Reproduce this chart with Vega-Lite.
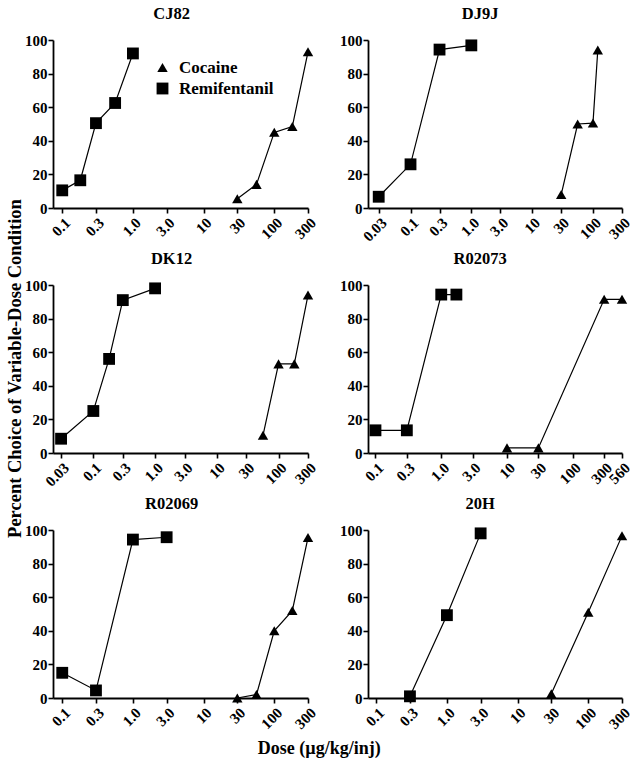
{
  "$schema": "https://vega.github.io/schema/vega-lite/v6.json",
  "background": "white",
  "padding": 5,
  "datasets": {
    "d": [
      {"subject": "CJ82", "drug": "Remifentanil", "dose": 0.1, "pct": 10.5},
      {"subject": "CJ82", "drug": "Remifentanil", "dose": 0.18, "pct": 16.5},
      {"subject": "CJ82", "drug": "Remifentanil", "dose": 0.3, "pct": 50.5},
      {"subject": "CJ82", "drug": "Remifentanil", "dose": 0.56, "pct": 62.5},
      {"subject": "CJ82", "drug": "Remifentanil", "dose": 1.0, "pct": 92},
      {"subject": "CJ82", "drug": "Cocaine", "dose": 30, "pct": 5.5},
      {"subject": "CJ82", "drug": "Cocaine", "dose": 56, "pct": 14},
      {"subject": "CJ82", "drug": "Cocaine", "dose": 100, "pct": 45},
      {"subject": "CJ82", "drug": "Cocaine", "dose": 180, "pct": 48.5},
      {"subject": "CJ82", "drug": "Cocaine", "dose": 300, "pct": 93},
      {"subject": "DJ9J", "drug": "Remifentanil", "dose": 0.03, "pct": 6.7},
      {"subject": "DJ9J", "drug": "Remifentanil", "dose": 0.1, "pct": 26},
      {"subject": "DJ9J", "drug": "Remifentanil", "dose": 0.3, "pct": 94.3},
      {"subject": "DJ9J", "drug": "Remifentanil", "dose": 1.0, "pct": 96.8},
      {"subject": "DJ9J", "drug": "Cocaine", "dose": 30, "pct": 8},
      {"subject": "DJ9J", "drug": "Cocaine", "dose": 56, "pct": 50},
      {"subject": "DJ9J", "drug": "Cocaine", "dose": 100, "pct": 50.5},
      {"subject": "DJ9J", "drug": "Cocaine", "dose": 120, "pct": 94},
      {"subject": "DK12", "drug": "Remifentanil", "dose": 0.03, "pct": 8.5},
      {"subject": "DK12", "drug": "Remifentanil", "dose": 0.1, "pct": 25},
      {"subject": "DK12", "drug": "Remifentanil", "dose": 0.18, "pct": 56},
      {"subject": "DK12", "drug": "Remifentanil", "dose": 0.3, "pct": 91},
      {"subject": "DK12", "drug": "Remifentanil", "dose": 1.0, "pct": 98},
      {"subject": "DK12", "drug": "Cocaine", "dose": 56, "pct": 10.5},
      {"subject": "DK12", "drug": "Cocaine", "dose": 100, "pct": 53},
      {"subject": "DK12", "drug": "Cocaine", "dose": 180, "pct": 53},
      {"subject": "DK12", "drug": "Cocaine", "dose": 300, "pct": 94},
      {"subject": "R02073", "drug": "Remifentanil", "dose": 0.1, "pct": 13.5},
      {"subject": "R02073", "drug": "Remifentanil", "dose": 0.3, "pct": 13.5},
      {"subject": "R02073", "drug": "Remifentanil", "dose": 1.0, "pct": 94.3},
      {"subject": "R02073", "drug": "Remifentanil", "dose": 1.7, "pct": 94.3},
      {"subject": "R02073", "drug": "Cocaine", "dose": 10, "pct": 3},
      {"subject": "R02073", "drug": "Cocaine", "dose": 30, "pct": 3},
      {"subject": "R02073", "drug": "Cocaine", "dose": 300, "pct": 91.5},
      {"subject": "R02073", "drug": "Cocaine", "dose": 560, "pct": 91.5},
      {"subject": "R02069", "drug": "Remifentanil", "dose": 0.1, "pct": 15},
      {"subject": "R02069", "drug": "Remifentanil", "dose": 0.3, "pct": 4.5},
      {"subject": "R02069", "drug": "Remifentanil", "dose": 1.0, "pct": 94.3},
      {"subject": "R02069", "drug": "Remifentanil", "dose": 3.0, "pct": 95.7},
      {"subject": "R02069", "drug": "Cocaine", "dose": 30, "pct": 0},
      {"subject": "R02069", "drug": "Cocaine", "dose": 56, "pct": 2},
      {"subject": "R02069", "drug": "Cocaine", "dose": 100, "pct": 40},
      {"subject": "R02069", "drug": "Cocaine", "dose": 180, "pct": 52},
      {"subject": "R02069", "drug": "Cocaine", "dose": 300, "pct": 95.5},
      {"subject": "20H", "drug": "Remifentanil", "dose": 0.3, "pct": 1},
      {"subject": "20H", "drug": "Remifentanil", "dose": 1.0, "pct": 49.3},
      {"subject": "20H", "drug": "Remifentanil", "dose": 3.0, "pct": 98},
      {"subject": "20H", "drug": "Cocaine", "dose": 30, "pct": 2.5},
      {"subject": "20H", "drug": "Cocaine", "dose": 100, "pct": 51},
      {"subject": "20H", "drug": "Cocaine", "dose": 300, "pct": 96.5}
    ]
  },
  "title": {"text": "Dose (µg/kg/inj)", "orient": "bottom", "anchor": "middle", "frame": "bounds", "font": "Liberation Serif", "fontSize": 18, "fontWeight": "bold", "color": "black", "offset": 8},
  "config": {
    "view": {"stroke": null},
    "font": "Liberation Serif",
    "axis": {"domainColor": "black", "domainWidth": 1.8, "tickColor": "black", "tickWidth": 1.6, "tickSize": 5, "labelFont": "Liberation Serif", "labelFontWeight": "bold", "labelFontSize": 15, "labelColor": "black", "grid": false, "labelPadding": 1, "labelOverlap": false, "titleFont": "Liberation Serif"},
    "axisX": {"labelAngle": -45, "labelPadding": 2},
    "title": {"font": "Liberation Serif", "fontSize": 16.5, "fontWeight": "bold", "color": "black", "anchor": "middle", "frame": "bounds", "offset": 11},
    "legend": {"labelFont": "Liberation Serif", "labelFontWeight": "bold", "labelFontSize": 17, "labelColor": "black", "symbolSize": 140, "symbolFillColor": "black", "symbolStrokeColor": "black", "symbolStrokeWidth": 1.5, "rowPadding": 3, "labelOffset": 8}
  },
  "resolve": {"scale": {"shape": "independent"}, "legend": {"shape": "independent"}},
  "vconcat": [
    {
      "title": {"text": "Percent Choice of Variable-Dose Condition", "orient": "left", "anchor": "middle", "frame": "bounds", "fontSize": 18.5, "offset": 0},
      "spacing": 5,
      "resolve": {"scale": {"shape": "independent"}, "legend": {"shape": "independent"}},
      "vconcat": [
        {
          "spacing": 20,
          "resolve": {"scale": {"shape": "independent"}, "legend": {"shape": "independent"}},
          "hconcat": [
            {
              "width": 255, "height": 168,
              "title": "CJ82",
              "data": {"name": "d"},
              "transform": [{"filter": "datum.subject == 'CJ82'"}],
              "encoding": {
                "x": {"field": "dose", "type": "quantitative", "scale": {"type": "log", "domain": [0.074, 300], "nice": false}, "axis": {"title": null, "values": [0.1, 0.3, 1, 3, 10, 30, 100, 300], "labelExpr": "datum.value == 1 ? '1.0' : datum.value == 3 ? '3.0' : toString(datum.value)"}},
                "y": {"field": "pct", "type": "quantitative", "scale": {"domain": [0, 100], "nice": false}, "axis": {"title": null, "values": [0, 20, 40, 60, 80, 100]}}
              },
              "layer": [
                {"mark": {"type": "line", "color": "black", "strokeWidth": 1.2}, "encoding": {"detail": {"field": "drug", "type": "nominal"}}},
                {"mark": {"type": "point", "filled": true, "opacity": 1, "color": "black", "strokeWidth": 0, "size": 140},
                 "encoding": {
                   "shape": {"field": "drug", "type": "nominal", "scale": {"domain": ["Cocaine", "Remifentanil"], "range": ["M0,-0.78L0.88,0.75L-0.88,0.75Z", "square"]},
                     "legend": {"title": null, "orient": "none", "legendX": 101, "legendY": 19,
                       "encode": {"symbols": {"update": {"shape": {"signal": "datum.value == 'Cocaine' ? 'M-1.35,0.25H1.35M0,-0.78L0.88,0.75L-0.88,0.75Z' : 'M-1.35,0H1.35M-0.95,-0.95H0.95V0.95H-0.95Z'"}}}}}}
                 }}
              ]
            },
            {
              "width": 254, "height": 168,
              "title": {"text": "DJ9J", "dx": -6},
              "data": {"name": "d"},
              "transform": [{"filter": "datum.subject == 'DJ9J'"}],
              "encoding": {
                "x": {"field": "dose", "type": "quantitative", "scale": {"type": "log", "domain": [0.02, 300], "nice": false}, "axis": {"title": null, "values": [0.03, 0.1, 0.3, 1, 3, 10, 30, 100, 300], "labelExpr": "datum.value == 1 ? '1.0' : datum.value == 3 ? '3.0' : toString(datum.value)"}},
                "y": {"field": "pct", "type": "quantitative", "scale": {"domain": [0, 100], "nice": false}, "axis": {"title": null, "values": [0, 20, 40, 60, 80, 100]}}
              },
              "layer": [
                {"mark": {"type": "line", "color": "black", "strokeWidth": 1.2}, "encoding": {"detail": {"field": "drug", "type": "nominal"}}},
                {"mark": {"type": "point", "filled": true, "opacity": 1, "color": "black", "strokeWidth": 0, "size": 140},
                 "encoding": {"shape": {"field": "drug", "type": "nominal", "scale": {"domain": ["Cocaine", "Remifentanil"], "range": ["M0,-0.78L0.88,0.75L-0.88,0.75Z", "square"]}, "legend": null}}}
              ]
            }
          ]
        },
        {
          "spacing": 20,
          "resolve": {"scale": {"shape": "independent"}, "legend": {"shape": "independent"}},
          "hconcat": [
            {
              "width": 255, "height": 168,
              "title": "DK12",
              "data": {"name": "d"},
              "transform": [{"filter": "datum.subject == 'DK12'"}],
              "encoding": {
                "x": {"field": "dose", "type": "quantitative", "scale": {"type": "log", "domain": [0.0222, 300], "nice": false}, "axis": {"title": null, "values": [0.03, 0.1, 0.3, 1, 3, 10, 30, 100, 300], "labelExpr": "datum.value == 1 ? '1.0' : datum.value == 3 ? '3.0' : toString(datum.value)"}},
                "y": {"field": "pct", "type": "quantitative", "scale": {"domain": [0, 100], "nice": false}, "axis": {"title": null, "values": [0, 20, 40, 60, 80, 100]}}
              },
              "layer": [
                {"mark": {"type": "line", "color": "black", "strokeWidth": 1.2}, "encoding": {"detail": {"field": "drug", "type": "nominal"}}},
                {"mark": {"type": "point", "filled": true, "opacity": 1, "color": "black", "strokeWidth": 0, "size": 140},
                 "encoding": {"shape": {"field": "drug", "type": "nominal", "scale": {"domain": ["Cocaine", "Remifentanil"], "range": ["M0,-0.78L0.88,0.75L-0.88,0.75Z", "square"]}, "legend": null}}}
              ]
            },
            {
              "width": 254, "height": 168,
              "title": {"text": "R02073", "dx": -6},
              "data": {"name": "d"},
              "transform": [{"filter": "datum.subject == 'R02073'"}],
              "encoding": {
                "x": {"field": "dose", "type": "quantitative", "scale": {"type": "log", "domain": [0.077, 560], "nice": false}, "axis": {"title": null, "values": [0.1, 0.3, 1, 3, 10, 30, 100, 300, 560], "labelExpr": "datum.value == 1 ? '1.0' : datum.value == 3 ? '3.0' : toString(datum.value)"}},
                "y": {"field": "pct", "type": "quantitative", "scale": {"domain": [0, 100], "nice": false}, "axis": {"title": null, "values": [0, 20, 40, 60, 80, 100]}}
              },
              "layer": [
                {"mark": {"type": "line", "color": "black", "strokeWidth": 1.2}, "encoding": {"detail": {"field": "drug", "type": "nominal"}}},
                {"mark": {"type": "point", "filled": true, "opacity": 1, "color": "black", "strokeWidth": 0, "size": 140},
                 "encoding": {"shape": {"field": "drug", "type": "nominal", "scale": {"domain": ["Cocaine", "Remifentanil"], "range": ["M0,-0.78L0.88,0.75L-0.88,0.75Z", "square"]}, "legend": null}}}
              ]
            }
          ]
        },
        {
          "spacing": 20,
          "resolve": {"scale": {"shape": "independent"}, "legend": {"shape": "independent"}},
          "hconcat": [
            {
              "width": 255, "height": 168,
              "title": "R02069",
              "data": {"name": "d"},
              "transform": [{"filter": "datum.subject == 'R02069'"}],
              "encoding": {
                "x": {"field": "dose", "type": "quantitative", "scale": {"type": "log", "domain": [0.074, 300], "nice": false}, "axis": {"title": null, "values": [0.1, 0.3, 1, 3, 10, 30, 100, 300], "labelExpr": "datum.value == 1 ? '1.0' : datum.value == 3 ? '3.0' : toString(datum.value)"}},
                "y": {"field": "pct", "type": "quantitative", "scale": {"domain": [0, 100], "nice": false}, "axis": {"title": null, "values": [0, 20, 40, 60, 80, 100]}}
              },
              "layer": [
                {"mark": {"type": "line", "color": "black", "strokeWidth": 1.2}, "encoding": {"detail": {"field": "drug", "type": "nominal"}}},
                {"mark": {"type": "point", "filled": true, "opacity": 1, "color": "black", "strokeWidth": 0, "size": 140},
                 "encoding": {"shape": {"field": "drug", "type": "nominal", "scale": {"domain": ["Cocaine", "Remifentanil"], "range": ["M0,-0.78L0.88,0.75L-0.88,0.75Z", "square"]}, "legend": null}}}
              ]
            },
            {
              "width": 254, "height": 168,
              "title": {"text": "20H", "dx": -6},
              "data": {"name": "d"},
              "transform": [{"filter": "datum.subject == '20H'"}],
              "encoding": {
                "x": {"field": "dose", "type": "quantitative", "scale": {"type": "log", "domain": [0.0765, 300], "nice": false}, "axis": {"title": null, "values": [0.1, 0.3, 1, 3, 10, 30, 100, 300], "labelExpr": "datum.value == 1 ? '1.0' : datum.value == 3 ? '3.0' : toString(datum.value)"}},
                "y": {"field": "pct", "type": "quantitative", "scale": {"domain": [0, 100], "nice": false}, "axis": {"title": null, "values": [0, 20, 40, 60, 80, 100]}}
              },
              "layer": [
                {"mark": {"type": "line", "color": "black", "strokeWidth": 1.2}, "encoding": {"detail": {"field": "drug", "type": "nominal"}}},
                {"mark": {"type": "point", "filled": true, "opacity": 1, "color": "black", "strokeWidth": 0, "size": 140},
                 "encoding": {"shape": {"field": "drug", "type": "nominal", "scale": {"domain": ["Cocaine", "Remifentanil"], "range": ["M0,-0.78L0.88,0.75L-0.88,0.75Z", "square"]}, "legend": null}}}
              ]
            }
          ]
        }
      ]
    }
  ]
}
